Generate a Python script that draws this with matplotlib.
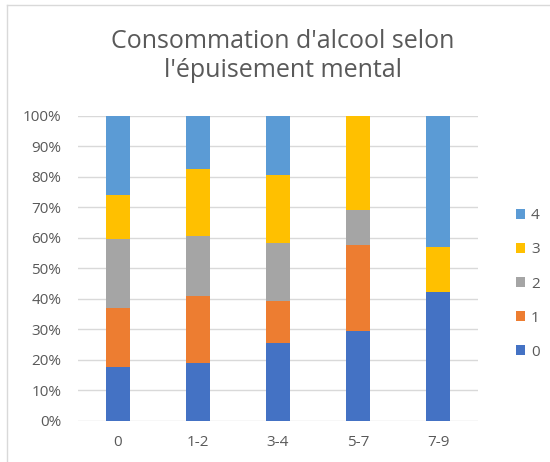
import matplotlib
matplotlib.use("Agg")
import matplotlib.pyplot as plt
from matplotlib.lines import Line2D
import numpy as np

categories = ["0", "1-2", "3-4", "5-7", "7-9"]
series_names = ["0", "1", "2", "3", "4"]
s0 = [17.5, 19.0, 25.4, 29.5, 42.2]
s1 = [19.4, 21.9, 13.8, 28.0, 0.0]
s2 = [22.6, 19.8, 19.2, 11.7, 0.0]
s3 = [14.6, 21.8, 22.0, 30.8, 14.7]
s4 = [25.9, 17.5, 19.6, 0.0, 43.1]
series = [s0, s1, s2, s3, s4]
colors = ["#4472C4", "#ED7D31", "#A5A5A5", "#FFC000", "#5B9BD5"]

plt.rcParams['font.family'] = ['Open Sans', 'DejaVu Sans']
fig = plt.figure(figsize=(5.5, 4.62), dpi=100)
ax = fig.add_axes([78/550, (462-420.7)/462, 400/550, (420.7-115.7)/462])

x = np.arange(len(categories))
bottom = np.zeros(len(categories))
handles = []
for name, vals, c in zip(series_names, series, colors):
    v = np.array(vals) / 100.0
    b = ax.bar(x, v, width=0.31, bottom=bottom, color=c, label=name, zorder=3)
    handles.append(b)
    bottom += v

ax.set_xlim(-0.5, 4.5)
ax.set_ylim(0, 1.0)
ax.set_yticks(np.arange(0, 1.01, 0.1))
ax.set_yticklabels([f"{int(round(t*100))}%" for t in np.arange(0, 1.01, 0.1)])
ax.set_xticks(x)
ax.set_xticklabels(categories)
ax.grid(axis='y', color='#D9D9D9', linewidth=1, zorder=0)
for s in ax.spines.values():
    s.set_visible(False)
ax.tick_params(axis='both', length=0, labelsize=11, colors='#595959')
ax.tick_params(axis='y', pad=12)
ax.tick_params(axis='x', pad=10)

fig.text(283/550, 1 - 56/462, "Consommation d'alcool selon\nl'épuisement mental",
         ha='center', va='center', fontsize=18, color='#595959', linespacing=1.25)

leg = fig.legend(handles[::-1], series_names[::-1], loc='center left',
                 bbox_to_anchor=(502/550, 1 - 284/462), frameon=False,
                 fontsize=11, labelspacing=1.25, handlelength=0.6, handleheight=0.6,
                 handletextpad=0.4, labelcolor='#595959')

# chart border (left and top visible)
fig.add_artist(Line2D([7/550, 7/550], [0, 1 - 5/462], transform=fig.transFigure, color='#D9D9D9', lw=1))
fig.add_artist(Line2D([7/550, 1], [1 - 5/462, 1 - 5/462], transform=fig.transFigure, color='#D9D9D9', lw=1))

fig.savefig("out.png", dpi=100)
